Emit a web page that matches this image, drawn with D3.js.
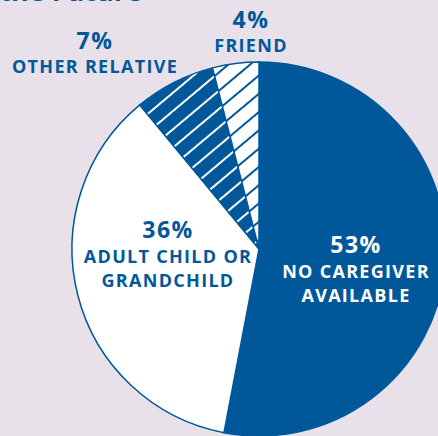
<!DOCTYPE html>
<html>
<head>
<meta charset="utf-8">
<script src="https://cdn.jsdelivr.net/npm/d3@7"></script>
<style>
  body { margin: 0; background: #e8e1e9; }
  text { font-family: "Open Sans", sans-serif; font-weight: 700; }
</style>
</head>
<body>
<script>
    //Global variables
        const width = 438;
        const height = 436;
        const blue = "#00589b";
        const bg = "#e8e1e9";

    //Data, clockwise from 12 o'clock
        const categories = ["NO CAREGIVER AVAILABLE", "ADULT CHILD OR GRANDCHILD", "OTHER RELATIVE", "FRIEND"];
        const shares = [53, 36, 7, 4];
        const fills = ["solid", "white", "hatchBlue", "hatchWhite"];

    //Label lines, percent first
        const labelLines = [
            ["53%", "NO CAREGIVER", "AVAILABLE"],
            ["36%", "ADULT CHILD OR", "GRANDCHILD"],
            ["7%", "OTHER RELATIVE"],
            ["4%", "FRIEND"]
        ];

        const data = categories.map((c, i) => ({ name: c, value: shares[i], fill: fills[i], lines: labelLines[i] }));

    //SVG element
        const svg = d3.select("body")
                    .append("svg")
                    .attr("width", width)
                    .attr("height", height);

        svg.append("rect")
            .attr("width", width)
            .attr("height", height)
            .attr("fill", bg);

    //Hatch patterns
        const defs = svg.append("defs");

        const hatch = (id, back, line) => {
            const p = defs.append("pattern")
                .attr("id", id)
                .attr("patternUnits", "userSpaceOnUse")
                .attr("width", 14)
                .attr("height", 14)
                .attr("patternTransform", "rotate(-40)");
            p.append("rect").attr("width", 14).attr("height", 14).attr("fill", back);
            p.append("rect").attr("y", 6).attr("width", 14).attr("height", 2).attr("fill", line);
        };
        hatch("hatchBlue", blue, "#ffffff");
        hatch("hatchWhite", "#ffffff", blue);

        const fillOf = f => f === "solid" ? blue : f === "white" ? "#ffffff" : "url(#" + f + ")";

    //Title, mostly cropped off the top
        svg.append("text")
            .attr("x", 142)
            .attr("y", 1)
            .attr("text-anchor", "end")
            .attr("font-size", 27)
            .attr("fill", blue)
            .text("the Future");

    //Pie
        const cx = 259, cy = 249, r = 187;

        const pie = d3.pie()
                    .value(d => d.value)
                    .sort(null);

        const arc = d3.arc()
                    .innerRadius(0)
                    .outerRadius(r);

        const g = svg.append("g")
            .attr("transform", "translate(" + cx + "," + cy + ")");

        g.selectAll("path")
            .data(pie(data))
            .enter()
            .append("path")
            .attr("d", arc)
            .attr("fill", d => fillOf(d.data.fill))
            .attr("stroke", blue)
            .attr("stroke-width", 1.5);

    //Labels (absolute positions)
        const labelPos = [
            { x: 356, y: 253, color: "#ffffff" },
            { x: 168, y: 238, color: blue },
            { x: 95, y: 49, color: blue },
            { x: 251, y: 28, color: blue }
        ];

        data.forEach((d, i) => {
            const t = svg.append("text")
                .attr("text-anchor", "middle")
                .attr("fill", labelPos[i].color);
            d.lines.forEach((line, j) => {
                t.append("tspan")
                    .attr("x", labelPos[i].x)
                    .attr("y", j === 0 ? labelPos[i].y : labelPos[i].y + (i < 2 ? 25 : 24) + (j - 1) * 24)
                    .attr("font-size", j === 0 ? 23 : 18)
                    .attr("letter-spacing", j === 0 ? 1.5 : 1.3)
                    .text(line);
            });
        });
</script>
</body>
</html>
